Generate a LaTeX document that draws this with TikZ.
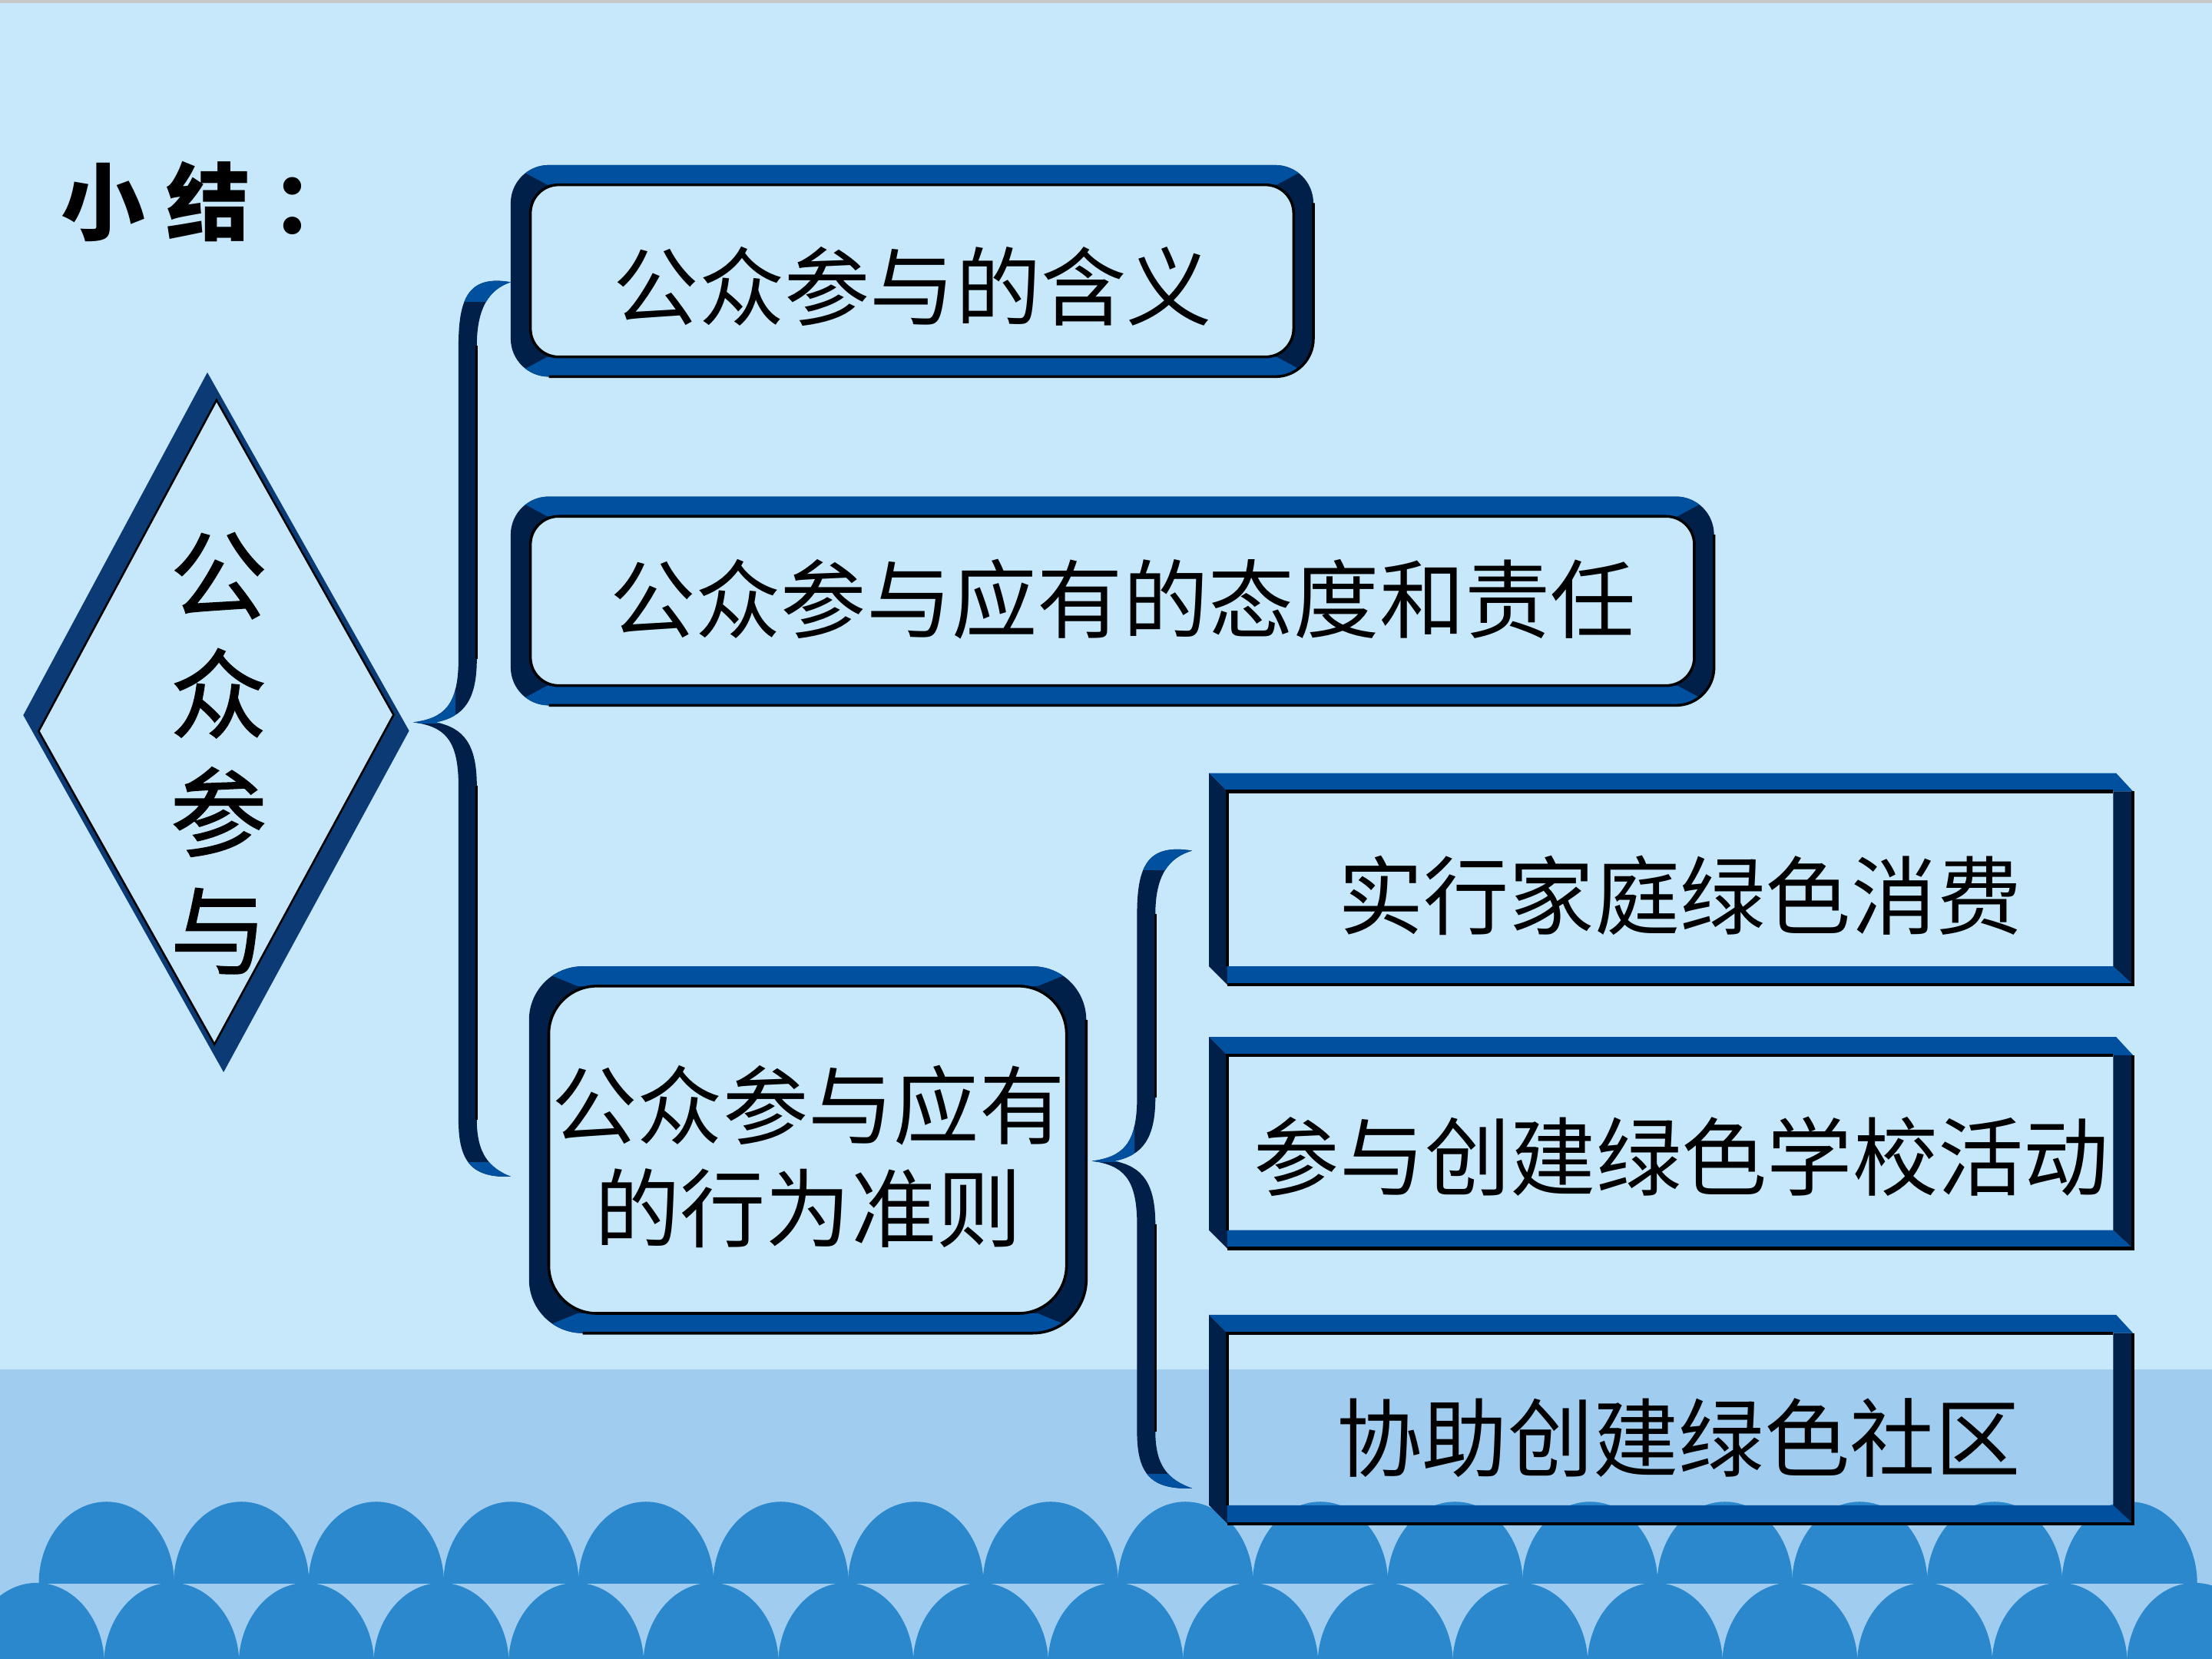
\documentclass[tikz,border=0pt]{standalone}
\usepackage{fontspec}
\newfontfamily\cjk{Noto Sans CJK SC}
\newfontfamily\cjkfb{Noto Sans CJK SC}[FakeBold=1.2]
\definecolor{bgA}{HTML}{C6E8FA}
\definecolor{bandC}{HTML}{A0CDEF}
\definecolor{arcC}{HTML}{2B88CD}
\definecolor{midB}{HTML}{0050A0}
\definecolor{darkB}{HTML}{00204A}
\definecolor{diaB}{HTML}{0B3A74}
\definecolor{grayTop}{HTML}{C8C8C8}
\tikzset{
  edgeline/.style={black, line width=1.3pt},
  boxtext/.style={inner sep=0pt, text=black, font=\cjk\fontsize{34.5}{41.5}\selectfont, align=center},
}
% rectangular bevel frame: x0 y0 x1 y1
\newcommand{\rectframe}[4]{%
 \fill[midB] (#1,#2) -- ({#3-12},#2) -- (#3,{#2+13}) -- ({#1+13},{#2+13}) -- cycle;
 \fill[darkB] (#1,#2) -- ({#1+13},{#2+13}) -- ({#1+13},#4) -- (#1,{#4-13}) -- cycle;
 \fill[midB] ({#1+13},{#4-13}) -- ({#3-14},{#4-13}) -- (#3,#4) -- ({#1+13},#4) -- cycle;
 \fill[darkB] ({#3-14},{#2+13}) -- (#3,{#2+13}) -- (#3,#4) -- ({#3-14},{#4-13}) -- cycle;
 \draw[edgeline] ({#1+13},{#4-13}) -- ({#1+13},{#2+13}) -- ({#3-14},{#2+13});
 \draw[edgeline] (#3,{#2+13}) -- (#3,#4) -- ({#1+13},#4);
}
% rounded frame: x0 y0 x1 y1 b rOuter rInner (radii in px units)
\newcommand{\roundframe}[7]{%
 \fill[darkB, even odd rule] [rounded corners=#6*0.02cm] (#1,#2) rectangle (#3,#4)
   [rounded corners=#7*0.02cm] ({#1+#5},{#2+#5}) rectangle ({#3-#5},{#4-#5});
 \begin{scope}
  \clip[rounded corners=#6*0.02cm] (#1,#2) rectangle (#3,#4);
  \fill[midB] (#1,#2) -- (#3,#2) -- ({#3-#5-#7*0.6},{#2+#5}) -- ({#1+#5+#7*0.6},{#2+#5}) -- cycle;
  \fill[midB] ({#1+#5+#7*0.6},{#4-#5}) -- ({#3-#5-#7*0.6},{#4-#5}) -- (#3,#4) -- (#1,#4) -- cycle;
 \end{scope}
 \draw[black, line width=1.1pt, rounded corners=#7*0.02cm] ({#1+#5},{#2+#5}) rectangle ({#3-#5},{#4-#5});
 \draw[black, line width=1.1pt, rounded corners=#6*0.02cm] (#3,{#2+#6}) -- (#3,#4) -- ({#1+#6},#4);
}
% brace: xe xs xt yt ym yb
\newcommand{\bracefig}[6]{%
 \fill[darkB] (#1,#4) .. controls ({#2+8},{#4-5}) and (#2,{#4+10}) .. (#2,{#4+45})
 -- (#2,{#5-45}) .. controls (#2,{#5-12}) and ({#3+22},{#5-3}) .. (#3,#5)
 .. controls ({#3+22},{#5+3}) and (#2,{#5+12}) .. (#2,{#5+45})
 -- (#2,{#6-40}) .. controls (#2,{#6-10}) and ({#2+10},{#6+1}) .. (#1,#6)
 .. controls ({#2+22},{#6-6}) and ({#2+13},{#6-16}) .. ({#2+13},{#6-40})
 -- ({#2+13},{#5+45}) .. controls ({#2+13},{#5+16}) and ({#2+4},{#5+4}) .. ({#3+16},#5)
 .. controls ({#2+4},{#5-4}) and ({#2+13},{#5-16}) .. ({#2+13},{#5-45})
 -- ({#2+13},{#4+45}) .. controls ({#2+13},{#4+18}) and ({#2+22},{#4+5}) .. (#1,#4) -- cycle;
 \begin{scope}
 \clip (#1,#4) .. controls ({#2+8},{#4-5}) and (#2,{#4+10}) .. (#2,{#4+45})
 -- (#2,{#5-45}) .. controls (#2,{#5-12}) and ({#3+22},{#5-3}) .. (#3,#5)
 .. controls ({#3+22},{#5+3}) and (#2,{#5+12}) .. (#2,{#5+45})
 -- (#2,{#6-40}) .. controls (#2,{#6-10}) and ({#2+10},{#6+1}) .. (#1,#6)
 .. controls ({#2+22},{#6-6}) and ({#2+13},{#6-16}) .. ({#2+13},{#6-40})
 -- ({#2+13},{#5+45}) .. controls ({#2+13},{#5+16}) and ({#2+4},{#5+4}) .. ({#3+16},#5)
 .. controls ({#2+4},{#5-4}) and ({#2+13},{#5-16}) .. ({#2+13},{#5-45})
 -- ({#2+13},{#4+45}) .. controls ({#2+13},{#4+18}) and ({#2+22},{#4+5}) .. (#1,#4) -- cycle;
 \fill[midB] ({#2-10},{#4-20}) rectangle ({#1+5},{#4+14});
 \fill[midB] ({#2+6},{#6-10}) rectangle ({#1+5},{#6+5});
 \fill[midB] ({#3-5},{#5-30}) rectangle ({#2-2},{#5+1});
 \end{scope}
 \draw[black, line width=0.9pt] ({#2+13},{#4+45}) -- ({#2+13},{#5-45});
 \draw[black, line width=0.9pt] ({#2+13},{#5+45}) -- ({#2+13},{#6-40});
}
\begin{document}
\begin{tikzpicture}[x=0.02cm, y=-0.02cm]
\useasboundingbox (0,0) rectangle (1568,1176);
% background
\fill[bgA] (0,0) rectangle (1568,971);
\fill[bandC] (0,971) rectangle (1568,1176);
\fill[grayTop] (0,0) rectangle (1568,2);
% waves
\begin{scope}
 \clip (0,0) rectangle (1568,1122.5);
 \foreach \k in {0,...,15} {
   \fill[arcC] ({75.5+95.6*\k},1122.5) ellipse[x radius=48, y radius=58];
 }
\end{scope}
\begin{scope}
 \clip (0,1121) rectangle (1568,1176);
 \foreach \k in {-1,...,16} {
   \fill[arcC] ({26+95.6*\k},1180) ellipse[x radius=48, y radius=58];
 }
\end{scope}
% diamond
\fill[diaB, even odd rule] (147,264) -- (290,518) -- (158.5,760) -- (16.5,507) -- cycle
  (153.5,283.6) -- (279,506.7) -- (152,740.3) -- (27.4,518.3) -- cycle;
\draw[black, line width=0.8pt] (153.5,283.6) -- (279,506.7) -- (152,740.3) -- (27.4,518.3) -- cycle;
% braces
\bracefig{362}{325}{293}{200}{512}{834}
\bracefig{845}{806}{774}{603}{823}{1055}
% rounded frames
\roundframe{362}{117}{931}{267}{14}{27}{20}
\roundframe{362}{352}{1215}{500}{14}{27}{20}
\roundframe{375}{685}{770}{945}{14}{38}{34}
% rectangular frames
\rectframe{857}{548}{1512}{698}
\rectframe{857}{735}{1512}{885}
\rectframe{857}{932}{1512}{1080}
% texts
\node[inner sep=0pt, anchor=west, font=\cjk\bfseries\fontsize{34}{40}\selectfont] (t0) at (43,143) {小\hspace{0.25em}结\hspace{0.25em}：};
\node[boxtext, font=\cjkfb\fontsize{39}{47.8}\selectfont] (d) at (155,534) {公\\众\\参\\与};
\node[boxtext] (b1) at (647,203) {公众参与的含义};
\node[boxtext] (b2) at (796,425) {公众参与应有的态度和责任};
\node[boxtext] (b3) at (573,820) {公众参与应有\\的行为准则};
\node[boxtext] (b4) at (1191,635) {实行家庭绿色消费};
\node[boxtext] (b5) at (1192,820) {参与创建绿色学校活动};
\node[boxtext] (b6) at (1190,1019) {协助创建绿色社区};
\end{tikzpicture}
\end{document}
